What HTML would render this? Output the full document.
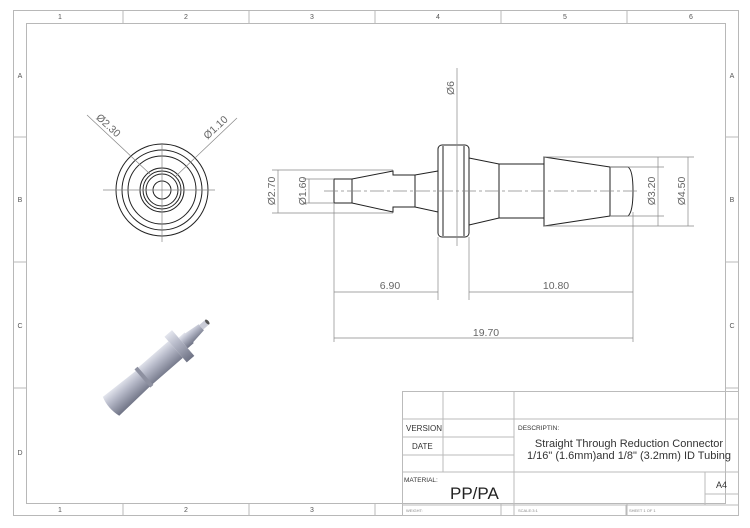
<!DOCTYPE html>
<html><head><style>body{margin:0;background:#fff}svg{display:block}</style></head><body>
<svg width="750" height="528" viewBox="0 0 750 528" xmlns="http://www.w3.org/2000/svg" font-family="Liberation Sans, sans-serif">
<defs>
<linearGradient id="g" x1="0" y1="0" x2="0" y2="1"><stop offset="0" stop-color="#e4e6ee"/><stop offset="0.35" stop-color="#b9bccb"/><stop offset="1" stop-color="#6e7284"/></linearGradient>
</defs>
<g fill="none" stroke="#b8b8b8" stroke-width="1">
<rect x="13.5" y="10.5" width="725" height="505"/>
<rect x="26.5" y="23.5" width="699" height="480"/>
<path d="M123 10v13M249 10v13M375 10v13M501 10v13M627 10v13M123 503v12M249 503v12M375 503v12M501 503v12M627 503v12M13 137h13M13 262h13M13 388h13M725 137h13M725 262h13M725 388h13"/>
</g>
<g font-size="7" fill="#555" text-anchor="middle">
<text x="60" y="19">1</text><text x="186" y="19">2</text><text x="312" y="19">3</text><text x="438" y="19">4</text><text x="565" y="19">5</text><text x="691" y="19">6</text>
<text x="60" y="512">1</text><text x="186" y="512">2</text><text x="312" y="512">3</text>
<text x="20" y="78">A</text><text x="20" y="202">B</text><text x="20" y="328">C</text><text x="20" y="455">D</text>
<text x="732" y="78">A</text><text x="732" y="202">B</text><text x="732" y="328">C</text>
</g>
<!-- side view -->
<g fill="none" stroke="#222" stroke-width="1">
<path d="M334 179L352 179L393 171L393 175L415 175L438 171L438 212L415 207L393 207L393 212L352 203L334 203Z"/>
<path d="M352 179V203M415 175V207M334 181V201"/>
<rect x="438" y="145" width="31" height="92" rx="4"/>
<path d="M443 146V236M464 146V236"/>
<path d="M469 158L499 164L544 164L544 157L610 167L628 167Q633 170 633 191Q633 212 628 216L610 216L544 226L544 218L499 218L469 225"/>
<path d="M499 164V218M544 157V226M610 167V216"/>
</g>
<g fill="none" stroke="#888" stroke-width="0.7">
<path d="M324 191H640" stroke-dasharray="14 3 3 3"/>
<path d="M457 68V246M278 170V213M309 179V203M658 157V226M688 157V226"/>
<path d="M272 170H393M272 213H393M303 179H334M303 203H334M610 167H664M610 216H664M544 157H694M544 226H694"/>
<path d="M334 203V342M438 237V300M469 237V300M633 212V342"/>
<path d="M334 292H438M469 292H633M334 338H633"/>
</g>
<g fill="#666" font-size="10.5" text-anchor="middle">
<text x="390" y="289">6.90</text><text x="556" y="289">10.80</text><text x="486" y="336">19.70</text>
<text transform="translate(454 88) rotate(-90)">Ø6</text>
<text transform="translate(275 191) rotate(-90)">Ø2.70</text>
<text transform="translate(306 191) rotate(-90)">Ø1.60</text>
<text transform="translate(655 191) rotate(-90)">Ø3.20</text>
<text transform="translate(685 191) rotate(-90)">Ø4.50</text>
<text transform="translate(106 128) rotate(43)">Ø2.30</text>
<text transform="translate(218 130) rotate(-43)">Ø1.10</text>
</g>
<!-- front view -->
<g fill="none" stroke="#222" stroke-width="1">
<circle cx="162" cy="190" r="46"/><circle cx="162" cy="190" r="40"/><circle cx="162" cy="190" r="34"/>
<circle cx="162" cy="190" r="22"/><circle cx="162" cy="190" r="19"/><circle cx="162" cy="190" r="16"/><circle cx="162" cy="190" r="9"/>
</g>
<g stroke="#888" stroke-width="0.7"><path d="M103 190H215M162 143V242M87 115L150 174M237 118L176 176"/></g>
<!-- 3D part -->
<g transform="translate(159 364) rotate(-41)">
<path d="M-64 -12L-22 -10L-22 -12L-18 -12L-18 -11L22 -11L22 11L-18 11L-18 12L-22 12L-22 11L-64 13Q-68 0 -64 -12Z" fill="url(#g)"/>
<path d="M-22 -12L-18 -12L-18 12L-22 12Z" fill="#8d90a0"/>
<path d="M22 -17L32 -17L32 17L22 17Z" fill="url(#g)"/>
<path d="M32 -7L40 -7L40 -6L56 -4L56 4L40 6L40 7L32 7Z" fill="url(#g)"/>
<path d="M56 -3L64 -3L64 3L56 3Z" fill="#c9cbd6"/>
<ellipse cx="64" cy="0" rx="1.5" ry="3" fill="#555"/>
</g>
<!-- title block -->
<g fill="none" stroke="#bbb" stroke-width="1">
<rect x="402.5" y="391.5" width="336" height="124"/>
<path d="M402 419H739M402 437H514M402 455H514M402 472H739M402 505H739M443 391V472M514 391V515M626 505V515M705 472V505M705 494H739"/>
</g>
<g fill="#333">
<text x="406" y="431" font-size="8">VERSION</text>
<text x="412" y="449" font-size="8">DATE</text>
<text x="518" y="430" font-size="6.5">DESCRIPTIN:</text>
<text x="629" y="447" font-size="11" text-anchor="middle">Straight Through Reduction Connector</text>
<text x="629" y="459" font-size="11" text-anchor="middle">1/16" (1.6mm)and 1/8" (3.2mm) ID Tubing</text>
<text x="404" y="482" font-size="6.5">MATERIAL:</text>
<text x="450" y="499" font-size="17" fill="#222">PP/PA</text>
<text x="716" y="488" font-size="9">A4</text>
<text x="406" y="512" font-size="4" fill="#888">WEIGHT:</text>
<text x="518" y="512" font-size="4" fill="#888">SCALE:3:1</text>
<text x="629" y="512" font-size="4" fill="#888">SHEET 1 OF 1</text>
</g>
</svg>
</body></html>
